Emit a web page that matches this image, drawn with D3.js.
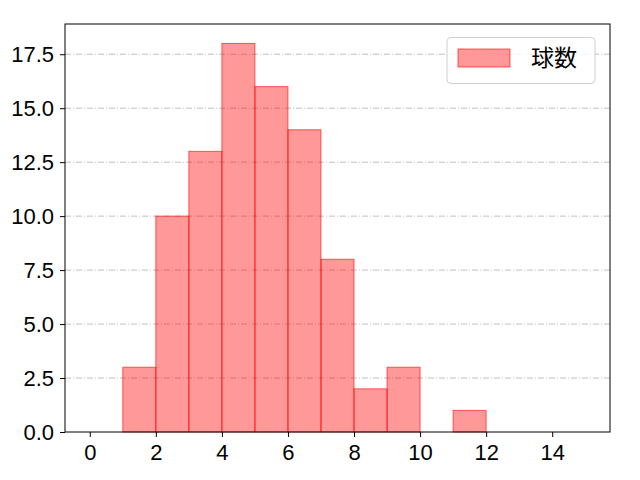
<!DOCTYPE html>
<html><head><meta charset="utf-8">
<script src="https://cdn.jsdelivr.net/npm/d3@7"></script>
<style>body{margin:0;background:#fff}</style>
</head><body>
<script>
const binStarts = [0,1,2,3,4,5,6,7,8,9,10,11,12,13,14];
const counts = [0,3,10,13,18,16,14,8,2,3,0,1,0,0,0];
const xTicks = [0,2,4,6,8,10,12,14];
const yTicks = [0,2.5,5,7.5,10,12.5,15,17.5];
const seriesName = "球数";

const W=640,H=480, L=65,R=610,T=24,B=432;
const font = "'Liberation Sans', 'Noto Sans CJK JP', sans-serif";
const cjk = "'Noto Sans CJK JP', sans-serif";
const svg = d3.select("body").append("svg").attr("width",W).attr("height",H);
const x = d3.scaleLinear().domain([-0.75,15.75]).range([L,R]);
const y = d3.scaleLinear().domain([0,18.9]).range([B,T]);

// grid
svg.append("g").selectAll("line").data(yTicks.slice(1)).join("line")
  .attr("x1",L).attr("x2",R).attr("y1",d=>y(d)).attr("y2",d=>y(d))
  .attr("stroke","#b0b0b0").attr("stroke-width",0.8).attr("stroke-dasharray","6,2,1,2");

// bars
svg.append("g").selectAll("rect").data(binStarts.map((s,i)=>({s,c:counts[i]})).filter(d=>d.c>0)).join("rect")
  .attr("x",d=>x(d.s)).attr("width",d=>x(d.s+1)-x(d.s))
  .attr("y",d=>y(d.c)).attr("height",d=>y(0)-y(d.c))
  .attr("fill","rgb(255,0,0)").attr("fill-opacity",0.4)
  .attr("stroke","rgb(255,0,0)").attr("stroke-opacity",0.6).attr("stroke-width",1);

// frame
svg.append("rect").attr("x",L).attr("y",T).attr("width",R-L).attr("height",B-T)
  .attr("fill","none").attr("stroke","#000").attr("stroke-width",1);

const xa = svg.append("g").attr("transform",`translate(0,${B})`)
  .call(d3.axisBottom(x).tickValues(xTicks).tickSize(5).tickPadding(7).tickFormat(d3.format("d")));
const ya = svg.append("g").attr("transform",`translate(${L},0)`)
  .call(d3.axisLeft(y).tickValues(yTicks).tickSize(5).tickPadding(6).tickFormat(d3.format(".1f")));
[xa,ya].forEach(a=>{a.select(".domain").remove();
  a.selectAll("text").attr("font-family",font).attr("font-size",22).attr("fill","#000");
  a.selectAll("line").attr("stroke","#000");});

// legend
const lg = svg.append("g");
lg.append("rect").attr("x",447).attr("y",37.5).attr("width",148).attr("height",46).attr("rx",4)
  .attr("fill","#fff").attr("fill-opacity",0.8).attr("stroke","#d0d0d0");
lg.append("rect").attr("x",458).attr("y",49).attr("width",52).attr("height",18)
  .attr("fill","rgb(255,0,0)").attr("fill-opacity",0.4).attr("stroke","rgb(255,0,0)").attr("stroke-opacity",0.6);
lg.append("text").attr("x",531).attr("y",66).text(seriesName)
  .attr("font-family",cjk).attr("font-size",23).attr("fill","#000");
</script>
</body></html>
